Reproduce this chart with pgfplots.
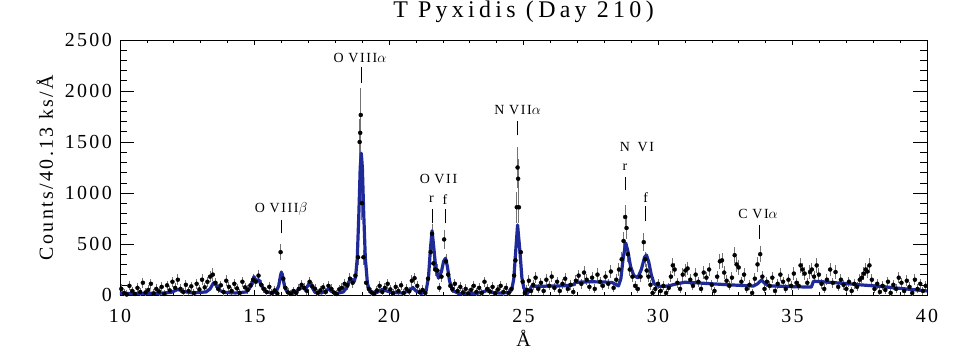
\documentclass[border=0pt]{standalone}
\usepackage{pgfplots}
\pgfplotsset{compat=1.18}
\usepackage{pgfplotstable}
\usepackage{fontspec}
\setmainfont{Liberation Serif}[LetterSpace=12]
\definecolor{blueline}{RGB}{30,42,152}
\definecolor{errgray}{RGB}{115,115,115}

\pgfplotstableread{
x y e
10.05 60 45
10.15 20 40
10.25 5 40
10.35 90 45
10.45 40 40
10.55 10 40
10.65 70 45
10.75 30 40
10.85 120 50
10.95 25 40
11.05 50 45
11.15 110 50
11.25 15 40
11.35 60 45
11.45 35 40
11.55 80 45
11.65 10 40
11.75 95 45
11.85 45 40
11.95 130 50
12.05 70 45
12.15 150 55
12.25 60 45
12.35 30 40
12.45 100 50
12.55 40 40
12.65 85 45
12.75 20 40
12.85 110 50
12.95 55 45
13.05 150 55
13.15 75 45
13.25 130 50
13.35 180 55
13.45 200 60
13.55 120 50
13.65 60 45
13.75 95 45
13.85 30 40
13.95 140 55
14.05 80 45
14.15 40 40
14.25 110 50
14.35 65 45
14.45 20 40
14.55 130 50
14.65 75 45
14.75 50 45
14.85 95 45
14.95 150 55
15.05 130 50
15.15 190 60
15.25 100 50
15.35 60 45
15.45 30 40
15.55 80 45
15.65 20 40
15.75 45 40
15.85 15 40
15.97 420 80
16.07 160 55
16.15 70 45
16.25 25 40
16.35 10 40
16.45 40 40
16.55 20 40
16.65 60 45
16.75 100 50
16.85 70 45
16.95 40 40
17.05 130 50
17.15 85 45
17.25 60 45
17.35 20 40
17.45 45 40
17.55 75 45
17.65 30 40
17.75 90 45
17.85 60 45
17.95 25 40
18.05 10 40
18.15 55 45
18.25 70 45
18.35 110 50
18.45 95 45
18.55 160 55
18.65 120 50
18.75 190 60
18.85 370 75
18.91 1500 230
18.93 1590 240
18.95 1765 260
18.99 900 160
19.05 370 75
19.15 120 50
19.25 60 45
19.35 25 40
19.45 10 40
19.55 45 40
19.65 90 45
19.75 30 40
19.85 70 45
19.95 110 50
20.05 55 45
20.15 15 40
20.25 80 45
20.35 40 40
20.45 95 45
20.55 20 40
20.65 60 45
20.75 35 40
20.85 140 55
20.95 165 55
21.05 90 45
21.15 30 40
21.25 50 45
21.35 20 40
21.45 160 55
21.55 420 80
21.60 600 100
21.65 310 70
21.72 250 65
21.80 240 65
21.87 70 45
21.95 180 55
22.05 545 90
22.12 330 70
22.20 200 60
22.28 90 45
22.36 60 45
22.45 110 50
22.55 40 40
22.65 80 45
22.75 25 40
22.85 60 45
22.95 15 40
23.05 50 45
23.15 90 45
23.25 30 40
23.35 70 45
23.45 20 40
23.55 130 50
23.65 60 45
23.75 35 40
23.85 80 45
23.95 15 40
24.05 55 45
24.15 90 45
24.25 30 40
24.35 70 45
24.45 20 40
24.55 60 45
24.65 190 60
24.70 340 75
24.75 860 150
24.78 1250 200
24.80 1140 190
24.83 860 150
24.90 420 80
24.97 130 50
25.05 20 40
25.13 50 45
25.20 140 55
25.28 40 40
25.36 100 50
25.45 170 55
25.55 60 45
25.65 120 50
25.75 40 40
25.85 150 55
25.95 90 45
26.05 180 55
26.15 70 45
26.25 130 50
26.35 40 40
26.45 110 50
26.55 160 55
26.65 60 45
26.75 100 50
26.85 30 40
26.95 140 55
27.05 190 60
27.15 110 50
27.25 220 60
27.35 150 55
27.45 80 45
27.55 170 55
27.65 60 45
27.75 200 60
27.85 130 50
27.95 90 45
28.05 180 55
28.15 110 50
28.25 230 60
28.35 70 45
28.45 150 55
28.55 250 65
28.65 350 75
28.72 530 90
28.78 765 120
28.83 657 110
28.88 400 80
28.95 250 65
29.05 180 55
29.15 90 45
29.25 60 45
29.35 180 55
29.47 518 90
29.53 350 75
29.58 240 65
29.65 180 55
29.72 100 50
29.80 20 40
29.90 60 45
30.00 110 50
30.10 40 40
30.20 90 45
30.30 20 40
30.40 70 45
30.48 180 55
30.55 290 70
30.62 250 65
30.72 120 50
30.82 60 45
30.92 200 60
31.02 240 65
31.10 260 65
31.20 150 55
31.30 90 45
31.40 200 60
31.50 130 50
31.60 60 45
31.70 220 60
31.80 170 55
31.90 250 65
32.00 100 50
32.10 40 40
32.20 180 55
32.30 330 75
32.38 340 75
32.46 220 60
32.55 140 55
32.65 90 45
32.75 170 55
32.85 390 80
32.92 300 70
33.00 270 70
33.10 130 50
33.20 200 60
33.30 60 45
33.40 100 50
33.50 20 40
33.60 160 55
33.70 300 70
33.80 400 80
33.88 180 55
33.96 60 45
34.05 130 50
34.15 90 45
34.25 170 55
34.35 40 40
34.45 110 50
34.55 200 60
34.65 130 50
34.75 60 45
34.85 150 55
34.95 90 45
35.05 210 60
35.15 120 50
35.23 90 45
35.30 290 70
35.37 250 65
35.45 210 60
35.55 120 50
35.65 225 65
35.72 250 65
35.80 180 55
35.90 290 70
35.98 200 60
36.08 110 50
36.18 60 45
36.28 150 55
36.40 250 65
36.50 120 50
36.60 225 65
36.70 80 45
36.80 150 55
36.90 100 50
37.00 60 45
37.10 130 50
37.20 40 40
37.30 110 50
37.40 80 45
37.50 150 55
37.58 170 55
37.65 210 60
37.72 250 65
37.78 230 65
37.86 290 70
37.95 150 55
38.05 60 45
38.15 110 50
38.25 30 40
38.35 90 45
38.45 50 45
38.55 130 50
38.65 20 40
38.75 100 50
38.85 60 45
38.95 170 55
39.05 120 50
39.15 40 40
39.25 140 55
39.35 80 45
39.45 20 40
39.55 150 55
39.65 60 45
39.75 110 50
39.85 40 40
39.95 90 45
}\spectrum

\begin{document}
\begin{tikzpicture}
\path[use as bounding box] (-120bp,-60bp) rectangle (850bp,295bp);
\begin{axis}[
  scale only axis,
  width=807bp, height=255bp,
  xmin=10, xmax=40, ymin=0, ymax=2500,
  xtick={10,15,20,25,30,35,40},
  ytick={0,500,1000,1500,2000,2500},
  minor x tick num=4, minor y tick num=4,
  tick align=inside,
  xtick pos=both, ytick pos=both,
  major tick length=14bp, minor tick length=7bp,
  xtick style={/pgfplots/major tick length=5bp,/pgfplots/minor tick length=3bp,black,line width=0.6bp},
  ytick style={black,line width=0.6bp},
  axis line style={line width=0.8bp},
  /pgf/number format/.cd, 1000 sep={}, assume math mode=true, /pgfplots/.cd,
  scaled y ticks=false,
  xticklabel style={font=\fontsize{20}{20}\selectfont, inner sep=0pt, anchor=north, yshift=-14bp},
  yticklabel style={font=\fontsize{20}{20}\selectfont, inner sep=0pt, anchor=east, xshift=-8bp},
  xlabel={Å},
  xlabel style={font=\fontsize{20}{20}\selectfont, at={(axis description cs:0.5,0)}, anchor=center, yshift=-43bp},
  ylabel={Counts/40.13 ks/Å},
  ylabel style={font=\fontsize{20}{20}\selectfont, at={(axis description cs:-0.093,0.5)}, anchor=center},
  title={T Pyxidis (Day 210)},
  title style={font=\fontsize{24}{24}\selectfont\addfontfeature{LetterSpace=18}, at={(axis description cs:0.5,1)}, anchor=center, yshift=22bp},
]
\addplot[only marks, mark=*, mark size=2bp, black,
  error bars/.cd, y dir=both, y explicit,
  error mark=none, error bar style={errgray, line width=1bp}]
  table[x=x, y=y, y error=e] {\spectrum};

\addplot[blueline, line width=3.2bp, line join=round] coordinates {
(10.0,15) (10.5,15) (11.0,16) (11.5,18) (11.9,25) (12.15,55) (12.35,35) (12.7,20)
(13.2,30) (13.35,60) (13.48,120) (13.58,95) (13.7,45) (13.9,25) (14.3,20) (14.7,30)
(14.88,90) (14.98,180) (15.06,140) (15.16,150) (15.26,90) (15.4,35) (15.6,20) (15.8,30)
(15.9,90) (15.96,180) (16.0,225) (16.05,180) (16.12,80) (16.22,25) (16.45,20) (16.62,50)
(16.75,80) (16.88,55) (16.98,90) (17.05,127) (17.13,80) (17.25,25) (17.5,20) (17.65,40)
(17.75,60) (17.86,35) (18.05,15) (18.3,30) (18.45,80) (18.55,160) (18.62,150) (18.7,130)
(18.76,180) (18.82,360) (18.88,800) (18.93,1250) (18.97,1390) (19.01,1250) (19.06,800)
(19.12,360) (19.2,110) (19.3,30) (19.55,25) (19.75,55) (19.85,45) (20.1,25) (20.5,20)
(20.75,40) (20.88,75) (21.0,40) (21.2,15) (21.38,40) (21.47,180) (21.54,450) (21.6,630)
(21.66,480) (21.74,260) (21.84,165) (21.95,230) (22.03,330) (22.1,360) (22.17,280)
(22.25,140) (22.35,45) (22.6,15) (23.3,18) (23.55,35) (23.68,48) (23.82,25) (24.2,18)
(24.45,25) (24.56,50) (24.64,160) (24.71,430) (24.78,686) (24.86,450) (24.94,170)
(25.01,70) (25.07,45) (25.13,10) (25.22,45) (25.3,85) (25.6,85) (26.0,88) (26.5,90)
(26.85,100) (26.95,125) (27.5,130) (28.0,127) (28.3,122) (28.45,100) (28.53,90)
(28.62,160) (28.7,350) (28.8,510) (28.88,430) (28.98,280) (29.1,190) (29.25,170)
(29.38,250) (29.5,370) (29.57,392) (29.65,330) (29.75,200) (29.85,115) (29.95,90)
(30.15,82) (30.4,90) (30.7,110) (31.0,125) (31.5,118) (32.0,110) (32.5,102) (33.0,95)
(33.55,88) (33.7,110) (33.85,147) (33.98,110) (34.15,90) (34.6,85) (35.2,80) (35.7,78)
(35.78,135) (36.0,132) (36.5,122) (37.0,112) (37.5,100) (38.0,90) (38.5,78) (39.0,65)
(39.5,52) (40.0,40)
};

\begin{scope}[every node/.style={font=\fontsize{14}{14}\selectfont, inner sep=0pt}]
\node at (axis cs:18.92,2328) {O\,\,VIII$\alpha$};
\draw[line width=1bp] (axis cs:18.98,2080) -- (axis cs:18.98,2240);
\node at (axis cs:15.99,848) {O\,\,VIII$\beta$};
\draw[line width=1bp] (axis cs:16.0,603) -- (axis cs:16.0,740);
\node at (axis cs:21.84,1142) {O\,\,VII};
\node at (axis cs:21.58,936) {r};
\node at (axis cs:22.08,936) {f};
\draw[line width=1bp] (axis cs:21.62,701) -- (axis cs:21.62,848);
\draw[line width=1bp] (axis cs:22.1,701) -- (axis cs:22.1,848);
\node at (axis cs:24.78,1809) {N\,\,VII$\alpha$};
\draw[line width=1bp] (axis cs:24.78,1564) -- (axis cs:24.78,1704);
\node at (axis cs:28.77,1449) {N};
\node at (axis cs:29.55,1449) {VI};
\node at (axis cs:28.77,1253) {r};
\draw[line width=1bp] (axis cs:28.8,1025) -- (axis cs:28.8,1155);
\node at (axis cs:29.54,959) {f};
\draw[line width=1bp] (axis cs:29.54,723) -- (axis cs:29.54,877);
\node at (axis cs:33.72,799) {C\,\,VI$\alpha$};
\draw[line width=1bp] (axis cs:33.76,551) -- (axis cs:33.76,688);
\end{scope}
\end{axis}
\end{tikzpicture}
\end{document}
